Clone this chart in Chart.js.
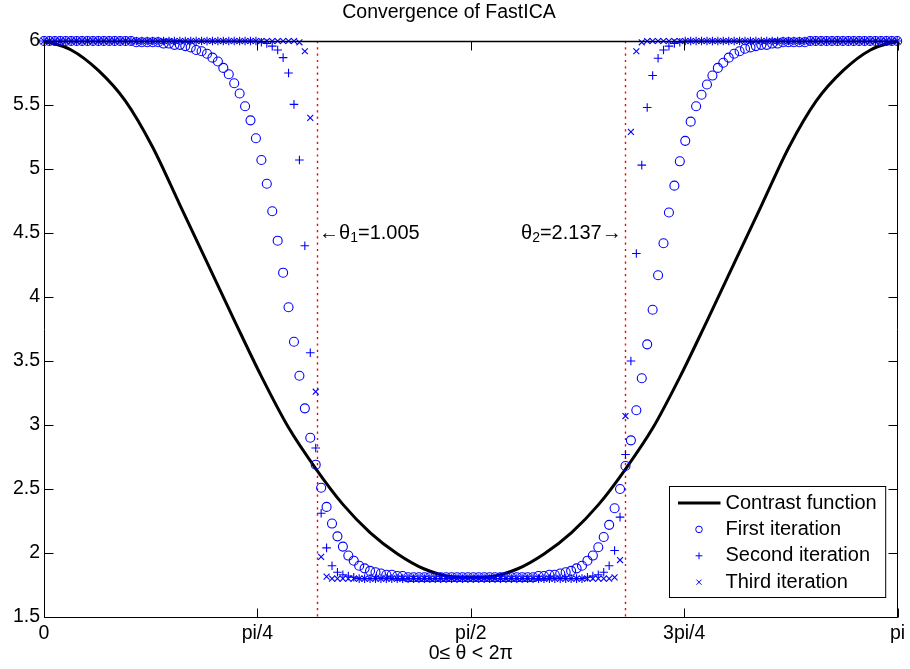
<!DOCTYPE html>
<html>
<head>
<meta charset="utf-8">
<title>Convergence of FastICA</title>
<script src="https://cdn.jsdelivr.net/npm/chart.js@4.4.1/dist/chart.umd.min.js"></script>
<style>
  html, body { margin: 0; padding: 0; background: #fff; }
  canvas { display: block; }
</style>
</head>
<body>
<canvas id="chartFastICA" width="910" height="669"></canvas>
<script>
// ====== datos ======
// muestras de theta cada 0.02 rad (0 .. 3.14), 158 puntos
const thetaStep = 0.02;

const firstIteration = [
  6.00, 6.00, 6.00, 6.00, 6.00, 6.00, 6.00, 6.00, 6.00, 6.00,
  6.00, 6.00, 6.00, 6.00, 6.00, 6.00, 6.00, 5.99, 5.99, 5.99,
  5.99, 5.99, 5.98, 5.98, 5.97, 5.97, 5.96, 5.95, 5.93, 5.92,
  5.90, 5.87, 5.84, 5.79, 5.74, 5.67, 5.59, 5.49, 5.38, 5.24,
  5.07, 4.885, 4.67, 4.44, 4.19, 3.92, 3.65, 3.385, 3.13, 2.90,
  2.69, 2.51, 2.36, 2.23, 2.13, 2.05, 1.98, 1.94, 1.90, 1.88,
  1.86, 1.85, 1.84, 1.83, 1.83, 1.82, 1.82, 1.81, 1.81, 1.81,
  1.81, 1.81, 1.81, 1.81, 1.81, 1.81, 1.81, 1.81, 1.81, 1.81,
  1.81, 1.81, 1.81, 1.81, 1.81, 1.81, 1.81, 1.81, 1.81, 1.81,
  1.81, 1.82, 1.82, 1.83, 1.83, 1.84, 1.85, 1.86, 1.88, 1.90,
  1.94, 1.98, 2.045, 2.125, 2.22, 2.35, 2.50, 2.68, 2.88, 3.115,
  3.365, 3.63, 3.90, 4.17, 4.42, 4.66, 4.87, 5.06, 5.22, 5.37,
  5.49, 5.58, 5.66, 5.73, 5.79, 5.83, 5.87, 5.90, 5.92, 5.94,
  5.95, 5.96, 5.97, 5.97, 5.98, 5.98, 5.99, 5.99, 5.99, 5.99,
  5.99, 6.00, 6.00, 6.00, 6.00, 6.00, 6.00, 6.00, 6.00, 6.00,
  6.00, 6.00, 6.00, 6.00, 6.00, 6.00, 6.00, 6.00
];

const secondIteration = [
  6.00, 6.00, 6.00, 6.00, 6.00, 6.00, 6.00, 6.00, 6.00, 6.00,
  6.00, 6.00, 6.00, 6.00, 6.00, 6.00, 6.00, 6.00, 6.00, 6.00,
  6.00, 6.00, 6.00, 6.00, 6.00, 6.00, 6.00, 6.00, 6.00, 6.00,
  6.00, 6.00, 6.00, 6.00, 6.00, 6.00, 6.00, 6.00, 6.00, 6.00,
  5.99, 5.98, 5.96, 5.93, 5.87, 5.75, 5.505, 5.07, 4.40, 3.565,
  2.82, 2.31, 2.04, 1.90, 1.85, 1.83, 1.82, 1.81, 1.80, 1.80,
  1.80, 1.80, 1.80, 1.80, 1.80, 1.80, 1.80, 1.80, 1.80, 1.80,
  1.80, 1.80, 1.80, 1.80, 1.80, 1.80, 1.80, 1.80, 1.80, 1.80,
  1.80, 1.80, 1.80, 1.80, 1.80, 1.80, 1.80, 1.80, 1.80, 1.80,
  1.80, 1.80, 1.80, 1.80, 1.80, 1.80, 1.80, 1.80, 1.80, 1.80,
  1.81, 1.82, 1.83, 1.85, 1.90, 2.02, 2.28, 2.77, 3.50, 4.34,
  5.03, 5.48, 5.73, 5.865, 5.93, 5.96, 5.98, 5.99, 6.00, 6.00,
  6.00, 6.00, 6.00, 6.00, 6.00, 6.00, 6.00, 6.00, 6.00, 6.00,
  6.00, 6.00, 6.00, 6.00, 6.00, 6.00, 6.00, 6.00, 6.00, 6.00,
  6.00, 6.00, 6.00, 6.00, 6.00, 6.00, 6.00, 6.00, 6.00, 6.00,
  6.00, 6.00, 6.00, 6.00, 6.00, 6.00, 6.00, 6.00
];

const thirdIteration = [
  6.00, 6.00, 6.00, 6.00, 6.00, 6.00, 6.00, 6.00, 6.00, 6.00,
  6.00, 6.00, 6.00, 6.00, 6.00, 6.00, 6.00, 6.00, 6.00, 6.00,
  6.00, 6.00, 6.00, 6.00, 6.00, 6.00, 6.00, 6.00, 6.00, 6.00,
  6.00, 6.00, 6.00, 6.00, 6.00, 6.00, 6.00, 6.00, 6.00, 6.00,
  6.00, 6.00, 6.00, 6.00, 6.00, 6.00, 6.00, 5.99, 5.92, 5.40,
  3.26, 1.97, 1.815, 1.80, 1.80, 1.80, 1.80, 1.80, 1.80, 1.80,
  1.80, 1.80, 1.80, 1.80, 1.80, 1.80, 1.80, 1.80, 1.80, 1.80,
  1.80, 1.80, 1.80, 1.80, 1.80, 1.80, 1.80, 1.80, 1.80, 1.80,
  1.80, 1.80, 1.80, 1.80, 1.80, 1.80, 1.80, 1.80, 1.80, 1.80,
  1.80, 1.80, 1.80, 1.80, 1.80, 1.80, 1.80, 1.80, 1.80, 1.80,
  1.80, 1.80, 1.80, 1.80, 1.80, 1.81, 1.945, 3.07, 5.29, 5.92,
  5.99, 6.00, 6.00, 6.00, 6.00, 6.00, 6.00, 6.00, 6.00, 6.00,
  6.00, 6.00, 6.00, 6.00, 6.00, 6.00, 6.00, 6.00, 6.00, 6.00,
  6.00, 6.00, 6.00, 6.00, 6.00, 6.00, 6.00, 6.00, 6.00, 6.00,
  6.00, 6.00, 6.00, 6.00, 6.00, 6.00, 6.00, 6.00, 6.00, 6.00,
  6.00, 6.00, 6.00, 6.00, 6.00, 6.00, 6.00, 6.00
];

// funcion de contraste (curva negra)
const contrastTheta = [
  0, 0.1, 0.2, 0.3, 0.4, 0.5, 0.6, 0.7, 0.8, 0.9, 1.0, 1.1, 1.2, 1.3, 1.4, 1.5,
  1.5708,
  1.6416, 1.7416, 1.8416, 1.9416, 2.0416, 2.1416, 2.2416, 2.3416, 2.4416, 2.5416,
  2.6416, 2.7416, 2.8416, 2.9416, 3.0416, 3.1416
];
const contrastValues = [
  6.00, 5.93, 5.77, 5.53, 5.17, 4.72, 4.27, 3.82, 3.38, 2.98, 2.66, 2.38, 2.16, 1.995, 1.875, 1.815,
  1.81,
  1.815, 1.875, 1.995, 2.16, 2.38, 2.66, 2.98, 3.38, 3.82, 4.27,
  4.72, 5.17, 5.53, 5.77, 5.93, 6.00
];

const xTickValues = [0, Math.PI / 4, Math.PI / 2, 3 * Math.PI / 4, Math.PI];
const xTickLabels = ["0", "pi/4", "pi/2", "3pi/4", "pi"];

const thetaMarks = [1.005, 2.137];
const thetaMarkText = ["1.005", "2.137"];
const thetaMarkY = 4.5;

const seriesNames = ["Contrast function", "First iteration", "Second iteration", "Third iteration"];

// ====== estilos ======
const FONT = "'Liberation Sans', Arial, Helvetica, sans-serif";
const BLUE = "rgb(0,0,255)";
Chart.defaults.font.family = FONT;
Chart.defaults.font.size = 19.5;
Chart.defaults.color = "#000";

const toPoints = (vals) => vals.map((v, i) => ({ x: i * thetaStep, y: v }));
const contrastPoints = contrastTheta.map((t, i) => ({ x: t, y: contrastValues[i] }));

// lineas punteadas rojas en theta1 / theta2
const thetaLinesPlugin = {
  id: "thetaLines",
  beforeDatasetsDraw(chart) {
    const { ctx, chartArea: a, scales: { x } } = chart;
    ctx.save();
    ctx.strokeStyle = "#ff0000";
    ctx.lineWidth = 1.4;
    ctx.setLineDash([2.2, 4.1]);
    thetaMarks.forEach((t) => {
      const px = Math.round(x.getPixelForValue(t)) + 0.5;
      ctx.beginPath();
      ctx.moveTo(px, a.top);
      ctx.lineTo(px, a.bottom);
      ctx.stroke();
    });
    ctx.restore();
  }
};

// marco con ticks hacia adentro (estilo matlab)
const framePlugin = {
  id: "frame",
  afterDatasetsDraw(chart) {
    const { ctx, chartArea: a, scales: { x, y } } = chart;
    const L = Math.round(a.left) + 0.5, R = Math.round(a.right) - 0.5;
    const T = Math.round(a.top) + 0.5, B = Math.round(a.bottom) + 0.5;
    const tick = 9;
    ctx.save();
    ctx.strokeStyle = "#000";
    ctx.lineWidth = 1;
    ctx.beginPath();
    ctx.rect(L, T, R - L, B - T);
    x.ticks.forEach((tk) => {
      const px = Math.round(x.getPixelForValue(tk.value)) + 0.5;
      ctx.moveTo(px, B); ctx.lineTo(px, B - tick);
      ctx.moveTo(px, T); ctx.lineTo(px, T + tick);
    });
    y.ticks.forEach((tk) => {
      const py = Math.round(y.getPixelForValue(tk.value)) + 0.5;
      ctx.moveTo(L, py); ctx.lineTo(L + tick, py);
      ctx.moveTo(R, py); ctx.lineTo(R - tick, py);
    });
    ctx.stroke();
    // borde superior un poco mas marcado, como en la figura
    ctx.lineWidth = 1.6;
    ctx.beginPath();
    ctx.moveTo(L, T); ctx.lineTo(R, T);
    ctx.stroke();
    ctx.restore();
  }
};

// leyenda y textos de theta
const legendPlugin = {
  id: "boxLegend",
  afterDraw(chart) {
    const { ctx, chartArea: a, scales: { x, y } } = chart;
    ctx.save();

    // --- anotaciones theta ---
    const big = "20px " + FONT, small = "14px " + FONT;
    ctx.fillStyle = "#000";
    ctx.textBaseline = "middle";
    ctx.textAlign = "left";
    const drawParts = (parts, x0, y0) => {
      let cx = x0;
      parts.forEach((p) => {
        ctx.font = p.sub ? small : big;
        ctx.fillText(p.t, cx, y0 + (p.sub ? 5 : 0));
        cx += ctx.measureText(p.t).width;
      });
    };
    const widthOf = (parts) => parts.reduce((w, p) => {
      ctx.font = p.sub ? small : big;
      return w + ctx.measureText(p.t).width;
    }, 0);
    const yText = y.getPixelForValue(thetaMarkY);
    const left = [{ t: "\u2190\u03b8" }, { t: "1", sub: true }, { t: "=" + thetaMarkText[0] }];
    drawParts(left, x.getPixelForValue(thetaMarks[0]) + 2, yText);
    const right = [{ t: "\u03b8" }, { t: "2", sub: true }, { t: "=" + thetaMarkText[1] + "\u2192" }];
    drawParts(right, x.getPixelForValue(thetaMarks[1]) - 3 - widthOf(right), yText);

    // --- leyenda ---
    ctx.font = big;
    const textW = Math.max(...seriesNames.map((n) => ctx.measureText(n).width));
    const w = textW + 65, h = 111;
    const bx = Math.round(a.right - 12 - w) + 0.5, by = Math.round(a.bottom - 20 - h) + 0.5;
    ctx.fillStyle = "#fff";
    ctx.fillRect(bx, by, w, h);
    ctx.strokeStyle = "#000";
    ctx.lineWidth = 1;
    ctx.strokeRect(bx, by, w, h);

    const sets = chart.data.datasets;
    seriesNames.forEach((name, k) => {
      const ry = by + 16.5 + k * 26.4;
      const ds = sets[k];
      if (k === 0) {
        ctx.strokeStyle = ds.borderColor;
        ctx.lineWidth = ds.borderWidth;
        ctx.beginPath();
        ctx.moveTo(bx + 8.5, ry);
        ctx.lineTo(bx + 51, ry);
        ctx.stroke();
      } else {
        ctx.strokeStyle = BLUE;
        ctx.fillStyle = "rgba(0,0,0,0)";
        ctx.lineWidth = 1;
        Chart.helpers.drawPoint(ctx, { pointStyle: ds.pointStyle, radius: ds.legendRadius, borderWidth: 1, rotation: 0 }, bx + 29.5, ry);
      }
      ctx.fillStyle = "#000";
      ctx.font = big;
      ctx.textAlign = "left";
      ctx.textBaseline = "middle";
      ctx.fillText(name, bx + 56, ry);
    });
    ctx.restore();
  }
};

const ctx = document.getElementById("chartFastICA").getContext("2d");

new Chart(ctx, {
  type: "line",
  data: {
    datasets: [
      {
        label: seriesNames[0],
        data: contrastPoints,
        borderColor: "#000",
        borderWidth: 3,
        pointRadius: 0,
        cubicInterpolationMode: "monotone",
        fill: false,
        clip: false,
        order: 3
      },
      {
        label: seriesNames[1],
        data: toPoints(firstIteration),
        showLine: false,
        pointStyle: "circle",
        pointRadius: 4.5,
        legendRadius: 3.3,
        pointBorderWidth: 1.1,
        pointBorderColor: BLUE,
        pointBackgroundColor: "rgba(0,0,0,0)",
        clip: false,
        order: 2
      },
      {
        label: seriesNames[2],
        data: toPoints(secondIteration),
        showLine: false,
        pointStyle: "cross",
        pointRadius: 4.3,
        legendRadius: 3.4,
        pointBorderWidth: 1.1,
        pointBorderColor: BLUE,
        pointBackgroundColor: "rgba(0,0,0,0)",
        clip: false,
        order: 1
      },
      {
        label: seriesNames[3],
        data: toPoints(thirdIteration),
        showLine: false,
        pointStyle: "crossRot",
        pointRadius: 4.2,
        legendRadius: 3.6,
        pointBorderWidth: 1.1,
        pointBorderColor: BLUE,
        pointBackgroundColor: "rgba(0,0,0,0)",
        clip: false,
        order: 0
      }
    ]
  },
  options: {
    responsive: false,
    animation: false,
    devicePixelRatio: 1,
    layout: { padding: { left: 0, right: 12, top: 0, bottom: 0 } },
    plugins: {
      legend: { display: false },
      tooltip: { enabled: false },
      title: {
        display: true,
        text: "Convergence of FastICA",
        color: "#000",
        font: { size: 19.5, weight: "normal" },
        padding: { top: 1, bottom: 16.6 }
      }
    },
    scales: {
      x: {
        type: "linear",
        min: 0,
        max: Math.PI,
        grid: { display: false, drawTicks: false },
        border: { display: false },
        ticks: {
          autoSkip: false,
          maxRotation: 0,
          padding: 4.8,
          callback: (val, i) => xTickLabels[i]
        },
        afterBuildTicks: (scale) => {
          scale.ticks = xTickValues.map((v) => ({ value: v }));
        },
        afterFit: (scale) => { scale.height = 52; },
        title: {
          display: true,
          text: "0\u2264 \u03b8 < 2\u03c0",
          color: "#000",
          font: { size: 19.5 },
          padding: { top: 0, bottom: 3.4 }
        }
      },
      y: {
        min: 1.5,
        max: 6,
        grid: { display: false, drawTicks: false },
        border: { display: false },
        ticks: {
          stepSize: 0.5,
          padding: 4,
          callback: (val) => String(Number(val.toFixed(1)))
        },
        afterFit: (scale) => { scale.width = 44; }
      }
    }
  },
  plugins: [thetaLinesPlugin, framePlugin, legendPlugin]
});
</script>
</body>
</html>
